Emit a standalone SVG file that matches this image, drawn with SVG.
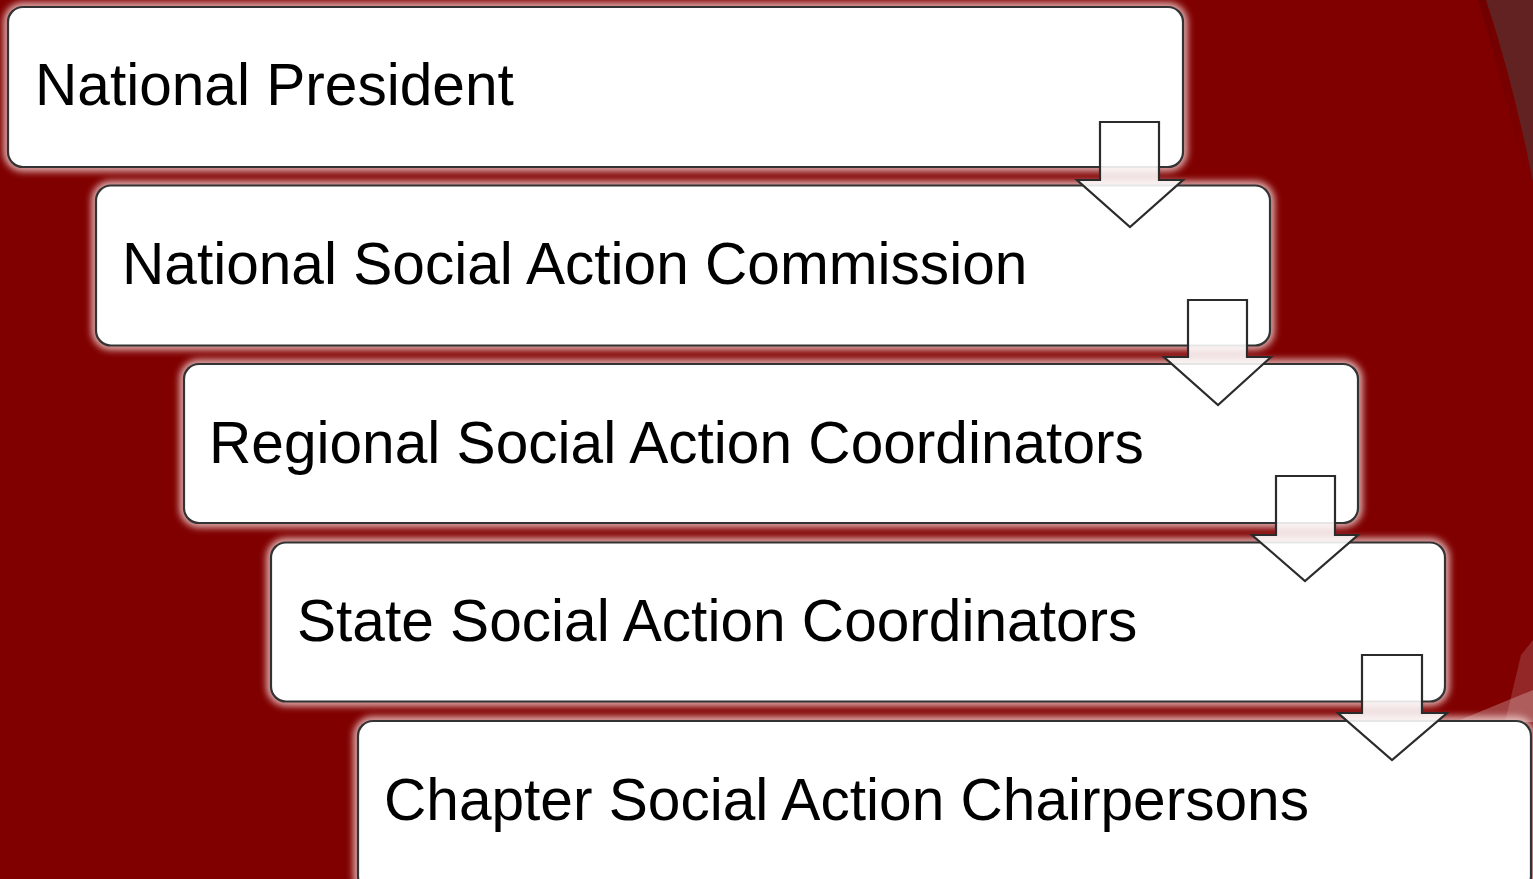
<svg xmlns="http://www.w3.org/2000/svg" width="1533" height="879" viewBox="0 0 1533 879">
  <defs>
    <filter id="glow" x="-5%" y="-20%" width="110%" height="140%">
      <feGaussianBlur stdDeviation="3.5"/>
    </filter>
    <linearGradient id="shade" x1="0" y1="0" x2="1" y2="0">
      <stop offset="0" stop-color="#5a0000" stop-opacity="0.9"/>
      <stop offset="1" stop-color="#5a0000" stop-opacity="0"/>
    </linearGradient>
  </defs>
  <style>
    .halo { fill: none; stroke: #f4d6d6; stroke-width: 9; opacity: 0.85; filter: url(#glow); }
    .box { fill: #ffffff; stroke: #333333; stroke-width: 2.2; }
    .lbl { font-family: "Liberation Sans", Arial, sans-serif; font-size: 58.6px; fill: #000000; }
    .arrow { fill: #ffffff; fill-opacity: 0.88; stroke: #2b2b2b; stroke-width: 2.2; stroke-linejoin: miter; }
  </style>
  <!-- background -->
  <rect x="0" y="0" width="1533" height="879" fill="#800000"/>
  <path d="M1486,0 Q1514,85 1533,182 L1533,0 Z" fill="#622222"/>
  <path d="M1486,0 Q1514,85 1533,182 L1533,205 Q1505,90 1478,0 Z" fill="url(#shade)" opacity="0.5"/>
  <path d="M1455,722 L1533,690 L1533,722 Z" fill="#ffffff" opacity="0.25"/>
  <path d="M1521,655 L1533,640 L1533,722 L1505,722 Z" fill="#ffffff" opacity="0.15"/>

  <g id="node1">
    <rect class="halo" x="8" y="7" width="1175" height="160" rx="15"/>
    <rect class="box" x="8" y="7" width="1175" height="160" rx="15"/>
    <text class="lbl" x="35" y="105">National President</text>
  </g>
  <g id="node2">
    <rect class="halo" x="96" y="185.5" width="1174" height="160" rx="15"/>
    <rect class="box" x="96" y="185.5" width="1174" height="160" rx="15"/>
    <text class="lbl" x="122" y="284">National Social Action Commission</text>
  </g>
  <g id="node3">
    <rect class="halo" x="184" y="364" width="1174" height="159" rx="15"/>
    <rect class="box" x="184" y="364" width="1174" height="159" rx="15"/>
    <text class="lbl" x="209" y="463">Regional Social Action Coordinators</text>
  </g>
  <g id="node4">
    <rect class="halo" x="271" y="542.5" width="1174" height="159" rx="15"/>
    <rect class="box" x="271" y="542.5" width="1174" height="159" rx="15"/>
    <text class="lbl" x="297" y="641">State Social Action Coordinators</text>
  </g>
  <g id="node5">
    <rect class="halo" x="358" y="721" width="1173" height="170" rx="15"/>
    <rect class="box" x="358" y="721" width="1173" height="170" rx="15"/>
    <text class="lbl" x="384" y="820">Chapter Social Action Chairpersons</text>
  </g>

  <g id="connectors">
    <path class="arrow" d="M1100,122 L1159,122 L1159,180 L1183,180 L1130,227 L1077,180 L1100,180 Z"/>
    <path class="arrow" d="M1188,300 L1247,300 L1247,357 L1271,357 L1218,405 L1164,357 L1188,357 Z"/>
    <path class="arrow" d="M1276,476 L1335,476 L1335,535 L1358,535 L1305,581 L1252,535 L1276,535 Z"/>
    <path class="arrow" d="M1362,655 L1422,655 L1422,713 L1447,713 L1392,760 L1338,713 L1362,713 Z"/>
  </g>
</svg>
